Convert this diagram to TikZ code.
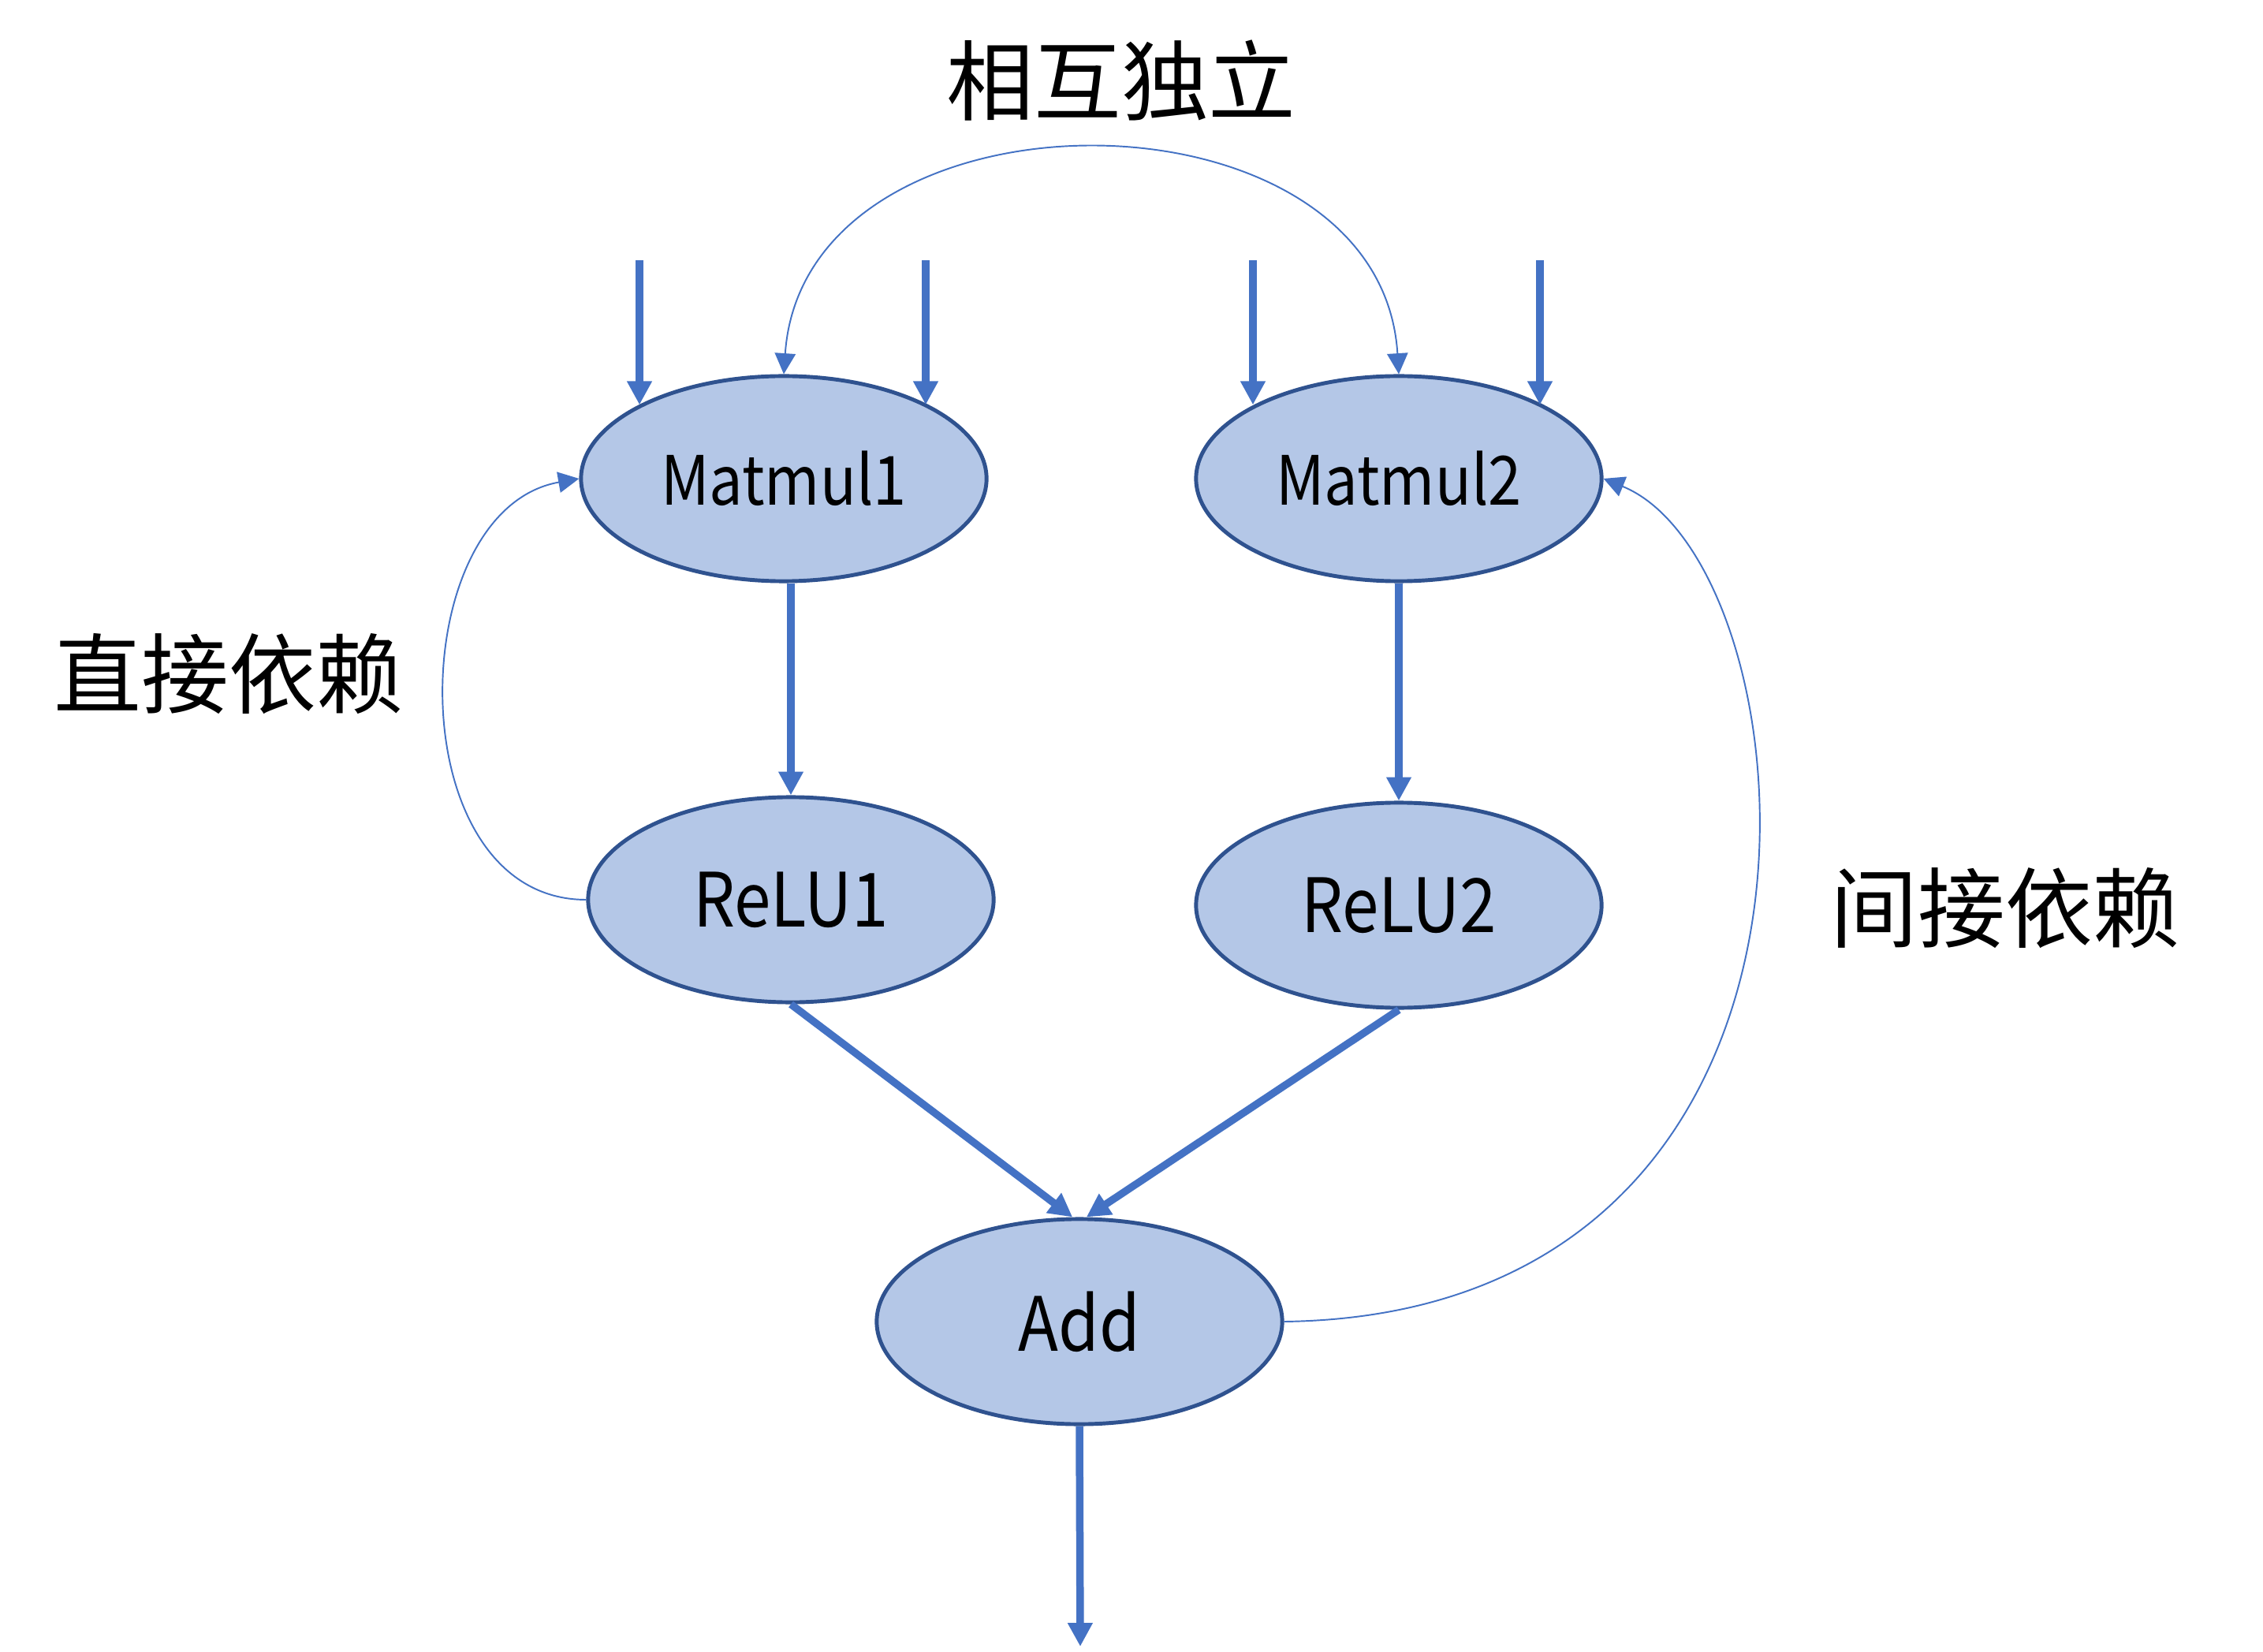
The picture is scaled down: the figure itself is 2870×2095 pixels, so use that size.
\documentclass[tikz,border=0pt]{standalone}
\usepackage{fontspec}
\setmainfont{Noto Sans CJK SC}
\newfontfamily\cjk{Noto Sans CJK SC}
\newfontfamily\nodefont[FakeStretch=0.88]{Noto Sans CJK SC}
\usetikzlibrary{arrows.meta,shapes.geometric,calc}
\definecolor{opfill}{HTML}{B4C7E7}
\definecolor{opline}{HTML}{2F528F}
\definecolor{arrowblue}{HTML}{4472C4}
\tikzset{
  opnode/.style={ellipse, draw=opline, fill=opfill, line width=1.4pt,
    minimum width=5.14cm, minimum height=2.6cm, inner sep=0pt, text=black},
  thickarrow/.style={draw=arrowblue, line width=2.7pt,
    -{Triangle[length=8.5pt,width=8.5pt]}},
  thinarrow/.style={draw=arrowblue, line width=0.55pt,
    -{Triangle[length=7.5pt,width=7.5pt]}},
  thinboth/.style={draw=arrowblue, line width=0.55pt,
    {Triangle[length=7.5pt,width=7.5pt]}-{Triangle[length=7.5pt,width=7.5pt]}},
  cjklabel/.style={font=\cjk\fontsize{31.5pt}{36pt}\selectfont, inner sep=0pt},
  mfont/.style={font=\nodefont\fontsize{24.5pt}{28pt}\selectfont},
  rfont/.style={font=\nodefont\fontsize{27pt}{30pt}\selectfont},
}
\begin{document}
\begin{tikzpicture}[x=0.01cm,y=-0.01cm]
\useasboundingbox[fill=white] (0,0) rectangle (2870,2095);

% nodes
\node[opnode, mfont] (m1) at (994,607) {Matmul1};
\node[opnode, mfont] (m2) at (1774,607) {Matmul2};
\node[opnode, rfont] (r1) at (1003,1141) {ReLU1};
\node[opnode, rfont] (r2) at (1774,1148) {ReLU2};
\node[opnode, rfont] (add) at (1369,1676) {Add};

% labels
\node[cjklabel] (t1) at (1422,102) {相互独立};
\node[cjklabel] (t2) at (290,855) {直接依赖};
\node[cjklabel] (t3) at (2543,1152) {间接依赖};

% input arrows
\coordinate (i1) at (811,330);
\coordinate (i2) at (1174,330);
\coordinate (i3) at (1589,330);
\coordinate (i4) at (1953,330);
\draw[thickarrow] (i1) -- (i1 |- m1.153);
\draw[thickarrow] (i2) -- (i2 |- m1.27);
\draw[thickarrow] (i3) -- (i3 |- m2.153);
\draw[thickarrow] (i4) -- (i4 |- m2.27);

% main flow
\draw[thickarrow] (m1.south -| r1.north) -- (r1.north);
\draw[thickarrow] (m2.south) -- (r2.north);
\draw[thickarrow] (r1.south) -- ([xshift=-2.5pt]add.north);
\draw[thickarrow] (r2.south) -- ([xshift=2.5pt]add.north);
\coordinate (out) at (1370,2088);
\draw[thickarrow] (add.south) -- (out);

% dependency curves
\draw[thinboth] (m1.north) .. controls +(26,-378) and +(-24,-378) .. (m2.north);
\draw[thinarrow] (r1.west) .. controls +(-240,0) and +(-225,40) .. (m1.west);
\draw[thinarrow] (add.east) .. controls +(760,-10) and +(270,110) .. (m2.east);
\end{tikzpicture}
\end{document}
